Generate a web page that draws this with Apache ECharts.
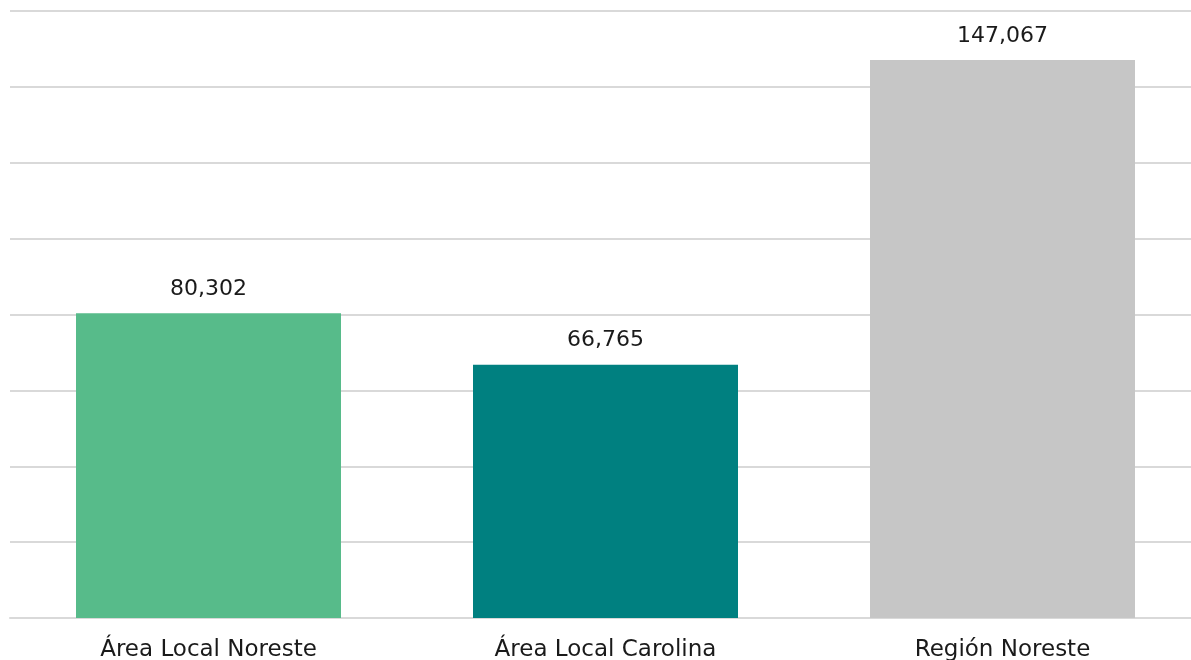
<!DOCTYPE html>
<html><head><meta charset="utf-8">
<script src="https://cdn.jsdelivr.net/npm/echarts@6/dist/echarts.min.js"></script>
<style>html,body{margin:0;padding:0;background:#fff;overflow:hidden}#c{width:1201px;height:660px}</style>
</head><body><div id="c"></div>
<script>
const categories = ['Área Local Noreste', 'Área Local Carolina', 'Región Noreste'];
const values = [80302, 66765, 147067];
const colors = ['#57BB8A', '#008080', '#C6C6C6'];
const yMax = 160000;
const yInterval = 20000;

const chart = echarts.init(document.getElementById('c'), null, {renderer: 'canvas'});
const font = 'DejaVu Sans';
chart.setOption({
  animation: false,
  grid: {left: 10, top: 11, right: 0, height: 607, containLabel: false, outerBoundsMode: 'none'},
  xAxis: {
    type: 'category', data: categories,
    axisLine: {lineStyle: {color: '#d9d9d9', width: 2}},
    axisTick: {show: false},
    axisLabel: {color: '#1a1a1a', fontSize: 23, fontFamily: font, margin: 21}
  },
  yAxis: {
    type: 'value', min: 0, max: yMax, interval: yInterval,
    axisLabel: {show: false}, axisLine: {show: false}, axisTick: {show: false},
    splitLine: {lineStyle: {color: '#d9d9d9', width: 2}}
  },
  series: [{
    type: 'bar', barWidth: 265,
    data: values.map((v, i) => ({value: v, itemStyle: {color: colors[i]}})),
    label: {show: true, position: 'top', distance: 13, color: '#1a1a1a', fontSize: 22, fontFamily: font,
      formatter: p => p.value.toLocaleString('en-US')}
  }]
});
</script></body></html>
